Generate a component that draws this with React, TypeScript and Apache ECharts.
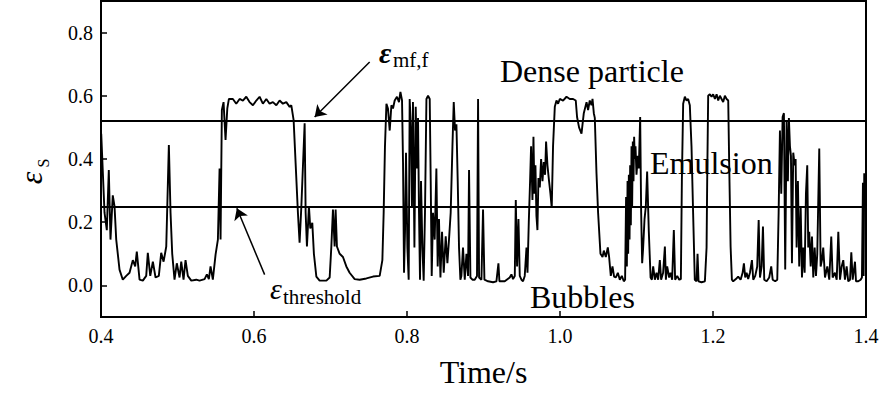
import React, { useEffect, useRef } from "react";
import * as echarts from "echarts";

// ---- data ----
const timeS: number[] = [
  0.4003, 0.4046, 0.4076, 0.4102, 0.4124, 0.4154, 0.4177, 0.4199, 0.4242, 0.4285,
  0.433, 0.4373, 0.4416, 0.4447, 0.4468, 0.4504, 0.4547, 0.4591, 0.4612, 0.4644,
  0.4678, 0.4713, 0.4756, 0.4787, 0.4818, 0.4853, 0.4887, 0.4909, 0.4931, 0.4961,
  0.4991, 0.5027, 0.5049, 0.5079, 0.5105, 0.5135, 0.518, 0.5245, 0.5288, 0.5354,
  0.5384, 0.541, 0.5432, 0.5462, 0.5498, 0.5528, 0.555, 0.5563, 0.558, 0.5602,
  0.5628, 0.5651, 0.5672, 0.5724, 0.5768, 0.5812, 0.5855, 0.5899, 0.5942, 0.5986,
  0.603, 0.6073, 0.6116, 0.6161, 0.6204, 0.6247, 0.6292, 0.6335, 0.6378, 0.6422,
  0.6466, 0.6488, 0.6518, 0.6544, 0.6574, 0.6596, 0.6619, 0.6662, 0.6675, 0.6692,
  0.6718, 0.6736, 0.6762, 0.6783, 0.6815, 0.6858, 0.6946, 0.6989, 0.7011, 0.7032,
  0.7054, 0.7067, 0.7084, 0.712, 0.7163, 0.7207, 0.725, 0.7316, 0.7381, 0.7469,
  0.7556, 0.7643, 0.7678, 0.7695, 0.7712, 0.7731, 0.7751, 0.7774, 0.7796, 0.7817,
  0.7839, 0.7869, 0.7895, 0.7914, 0.7935, 0.7948, 0.7961, 0.7974, 0.7987, 0.8005,
  0.8022, 0.8035, 0.8052, 0.8065, 0.8078, 0.8097, 0.8114, 0.8131, 0.8144, 0.8157,
  0.817, 0.8183, 0.8201, 0.8218, 0.8235, 0.8254, 0.8275, 0.8297, 0.831, 0.8323,
  0.834, 0.8362, 0.8384, 0.8401, 0.8418, 0.8437, 0.8458, 0.848, 0.8506, 0.8528,
  0.8549, 0.8571, 0.8594, 0.8611, 0.8628, 0.8646, 0.8663, 0.868, 0.8698, 0.8711,
  0.8732, 0.8755, 0.8777, 0.8798, 0.8811, 0.8829, 0.8855, 0.8885, 0.8915, 0.8929,
  0.8942, 0.8973, 0.8994, 0.9012, 0.9059, 0.9125, 0.9169, 0.9195, 0.9208, 0.9278,
  0.9343, 0.9365, 0.9386, 0.9409, 0.9422, 0.9439, 0.9457, 0.9474, 0.9496, 0.9517,
  0.9539, 0.9562, 0.9575, 0.9592, 0.9609, 0.9622, 0.964, 0.9653, 0.9666, 0.9679,
  0.9692, 0.9705, 0.9718, 0.9736, 0.9753, 0.9771, 0.9788, 0.9805, 0.9818, 0.9836,
  0.9857, 0.9875, 0.9892, 0.9909, 0.9932, 0.9954, 0.9975, 0.9997, 1.004, 1.0085,
  1.0128, 1.0171, 1.0206, 1.0223, 1.0249, 1.0281, 1.0311, 1.0347, 1.0367, 1.0389,
  1.0412, 1.0425, 1.0442, 1.0455, 1.0477, 1.0498, 1.0529, 1.0556, 1.0573, 1.0599,
  1.0625, 1.0642, 1.0664, 1.0686, 1.0707, 1.073, 1.0756, 1.0782, 1.0808, 1.0834,
  1.0851, 1.0864, 1.0874, 1.0883, 1.0891, 1.09, 1.0909, 1.0917, 1.0926, 1.0935,
  1.0943, 1.0952, 1.0961, 1.0969, 1.0978, 1.0987, 1.1, 1.1017, 1.103, 1.1048,
  1.1061, 1.1074, 1.1087, 1.1105, 1.1122, 1.1139, 1.1161, 1.1184, 1.1201, 1.1218,
  1.124, 1.1262, 1.1283, 1.1305, 1.1322, 1.1348, 1.1371, 1.1384, 1.1401, 1.1427,
  1.1445, 1.1466, 1.1488, 1.1505, 1.1532, 1.1558, 1.158, 1.1593, 1.161, 1.1632,
  1.1654, 1.1675, 1.1697, 1.1719, 1.174, 1.1762, 1.1785, 1.1798, 1.1811, 1.185,
  1.1894, 1.1916, 1.1924, 1.1937, 1.1959, 1.1981, 1.2002, 1.2025, 1.2047, 1.2068,
  1.209, 1.2112, 1.2133, 1.2155, 1.2178, 1.2199, 1.2212, 1.223, 1.2247, 1.2264,
  1.2299, 1.2329, 1.2361, 1.2387, 1.2404, 1.2421, 1.2439, 1.246, 1.2483, 1.2509,
  1.2526, 1.2552, 1.2578, 1.2597, 1.2614, 1.2636, 1.2653, 1.267, 1.2701, 1.2735,
  1.2761, 1.278, 1.2813, 1.284, 1.2858, 1.2875, 1.2892, 1.291, 1.2927, 1.2944,
  1.2962, 1.2979, 1.2992, 1.3006, 1.3019, 1.3032, 1.3049, 1.3067, 1.308, 1.3093,
  1.311, 1.3127, 1.3146, 1.3163, 1.318, 1.3198, 1.3215, 1.3232, 1.3245, 1.3258,
  1.3277, 1.3294, 1.3311, 1.3329, 1.3346, 1.3363, 1.3389, 1.3407, 1.3424, 1.3441,
  1.3464, 1.3494, 1.352, 1.3546, 1.3564, 1.3594, 1.3617, 1.3638, 1.366, 1.3682,
  1.3703, 1.3725, 1.3747, 1.3768, 1.3791, 1.3808, 1.3826, 1.3856, 1.3869, 1.3899,
  1.393, 1.3947, 1.396, 1.3969, 1.3977,
];

const epsS: number[] = [
  0.48, 0.23, 0.175, 0.365, 0.145, 0.285, 0.25, 0.145, 0.05, 0.018,
  0.03, 0.04, 0.08, 0.06, 0.107, 0.018, 0.015, 0.03, 0.103, 0.03,
  0.075, 0.025, 0.03, 0.103, 0.075, 0.123, 0.444, 0.23, 0.1, 0.018,
  0.07, 0.025, 0.075, 0.018, 0.08, 0.03, 0.015, 0.018, 0.015, 0.02,
  0.035, 0.02, 0.06, 0.018, 0.098, 0.145, 0.37, 0.145, 0.555, 0.58,
  0.46, 0.56, 0.59, 0.59, 0.575, 0.59, 0.585, 0.597, 0.58, 0.57,
  0.585, 0.597, 0.575, 0.59, 0.575, 0.58, 0.57, 0.585, 0.575, 0.58,
  0.565, 0.57, 0.523, 0.387, 0.23, 0.135, 0.25, 0.513, 0.23, 0.123,
  0.25, 0.18, 0.198, 0.1, 0.028, 0.015, 0.015, 0.025, 0.123, 0.24,
  0.123, 0.24, 0.123, 0.1, 0.09, 0.06, 0.04, 0.02, 0.018, 0.022,
  0.028, 0.03, 0.08, 0.23, 0.44, 0.575, 0.56, 0.49, 0.57, 0.56,
  0.585, 0.597, 0.58, 0.612, 0.585, 0.39, 0.04, 0.17, 0.42, 0.12,
  0.018, 0.59, 0.49, 0.25, 0.58, 0.12, 0.565, 0.37, 0.53, 0.23,
  0.018, 0.33, 0.12, 0.015, 0.23, 0.59, 0.6, 0.59, 0.33, 0.03,
  0.23, 0.145, 0.37, 0.06, 0.21, 0.025, 0.17, 0.04, 0.155, 0.07,
  0.145, 0.23, 0.44, 0.58, 0.49, 0.51, 0.33, 0.12, 0.018, 0.03,
  0.12, 0.018, 0.1, 0.03, 0.365, 0.025, 0.018, 0.018, 0.03, 0.59,
  0.025, 0.018, 0.24, 0.018, 0.013, 0.01, 0.013, 0.07, 0.013, 0.013,
  0.025, 0.035, 0.02, 0.03, 0.27, 0.06, 0.21, 0.03, 0.018, 0.013,
  0.03, 0.12, 0.04, 0.2, 0.33, 0.44, 0.27, 0.47, 0.29, 0.38,
  0.22, 0.175, 0.34, 0.31, 0.4, 0.33, 0.39, 0.35, 0.455, 0.38,
  0.33, 0.29, 0.245, 0.44, 0.565, 0.585, 0.575, 0.59, 0.585, 0.597,
  0.59, 0.59, 0.585, 0.533, 0.5, 0.48, 0.545, 0.58, 0.555, 0.585,
  0.57, 0.59, 0.545, 0.53, 0.355, 0.23, 0.1, 0.09, 0.11, 0.09,
  0.12, 0.09, 0.03, 0.06, 0.028, 0.025, 0.04, 0.018, 0.03, 0.013,
  0.018, 0.28, 0.06, 0.33, 0.1, 0.35, 0.145, 0.38, 0.19, 0.44,
  0.25, 0.455, 0.33, 0.47, 0.4, 0.44, 0.35, 0.41, 0.37, 0.533,
  0.23, 0.07, 0.12, 0.21, 0.25, 0.36, 0.17, 0.025, 0.018, 0.06,
  0.018, 0.04, 0.018, 0.08, 0.018, 0.04, 0.123, 0.018, 0.06, 0.025,
  0.04, 0.018, 0.175, 0.018, 0.03, 0.018, 0.02, 0.33, 0.575, 0.597,
  0.585, 0.59, 0.57, 0.44, 0.23, 0.018, 0.013, 0.1, 0.013, 0.01,
  0.013, 0.12, 0.33, 0.6, 0.605, 0.597, 0.605, 0.59, 0.605, 0.585,
  0.6, 0.59, 0.58, 0.6, 0.59, 0.585, 0.38, 0.123, 0.018, 0.013,
  0.02, 0.028, 0.018, 0.04, 0.07, 0.025, 0.04, 0.02, 0.04, 0.08,
  0.018, 0.03, 0.06, 0.207, 0.025, 0.06, 0.186, 0.018, 0.013, 0.025,
  0.06, 0.018, 0.013, 0.018, 0.23, 0.49, 0.29, 0.533, 0.545, 0.05,
  0.522, 0.33, 0.53, 0.44, 0.41, 0.07, 0.42, 0.38, 0.4, 0.12,
  0.33, 0.06, 0.25, 0.025, 0.12, 0.04, 0.29, 0.38, 0.12, 0.17,
  0.06, 0.155, 0.025, 0.12, 0.03, 0.1, 0.433, 0.06, 0.08, 0.12,
  0.025, 0.06, 0.018, 0.155, 0.025, 0.04, 0.018, 0.17, 0.018, 0.06,
  0.08, 0.018, 0.06, 0.013, 0.018, 0.105, 0.018, 0.075, 0.013, 0.013,
  0.018, 0.025, 0.325, 0.03, 0.355,
];

const xTickValues = [0.4, 0.6, 0.8, 1.0, 1.2, 1.4];
const yTickValues = [0.0, 0.2, 0.4, 0.6, 0.8];
const xRange = [0.4, 1.4];
const yRange = [-0.1, 0.9];

const epsMfF = 0.52; // ε_mf,f line
const epsThreshold = 0.25; // ε_threshold line

// annotation arrows, [tail, head] in data coordinates
const arrowMfF = [
  [0.7512, 0.707],
  [0.6793, 0.533],
];
const arrowThreshold = [
  [0.6139, 0.034],
  [0.5776, 0.244],
];

const regionLabels = ["Dense particle", "Emulsion", "Bubbles"];
const xAxisTitle = "Time/s";

const SERIF = "Liberation Serif, serif";

export default function App() {
  const ref = useRef<HTMLDivElement>(null);

  useEffect(() => {
    if (!ref.current) return;
    const chart = echarts.init(ref.current, undefined, { renderer: "svg" });

    const seriesData = timeS.map((t, i) => [t, epsS[i]]);

    const txt = (x: number, y: number, text: string, size: number, extra: any = {}) => ({
      type: "text",
      x,
      y,
      silent: true,
      ...(extra.rotation !== undefined ? { rotation: extra.rotation } : {}),
      style: {
        text,
        fontFamily: SERIF,
        fontSize: size,
        fontStyle: extra.fontStyle || "normal",
        fontWeight: extra.fontWeight || "normal",
        fill: "#000",
        align: extra.align || "left",
        verticalAlign: "middle",
      },
    });

    const option: any = {
      animation: false,
      backgroundColor: "#fff",
      textStyle: { fontFamily: SERIF },
      grid: {
        left: 101,
        right: 20,
        top: 1,
        bottom: 77,
        show: true,
        borderColor: "#000",
        borderWidth: 2,
        backgroundColor: "transparent",
      },
      xAxis: {
        type: "value",
        min: xRange[0],
        max: xRange[1],
        axisLine: { show: true, onZero: false, lineStyle: { color: "#000", width: 2 } },
        axisTick: {
          show: true,
          inside: true,
          length: 6,
          customValues: xTickValues,
          lineStyle: { color: "#000", width: 1.5 },
        },
        axisLabel: {
          color: "#000",
          fontFamily: SERIF,
          fontSize: 20,
          margin: 9,
          customValues: xTickValues,
          formatter: (v: number) => v.toFixed(1),
        },
        splitLine: { show: false },
        name: xAxisTitle,
        nameLocation: "middle",
        nameGap: 39,
        nameTextStyle: { color: "#000", fontFamily: SERIF, fontSize: 32 },
      },
      yAxis: {
        type: "value",
        min: yRange[0],
        max: yRange[1],
        axisLine: { show: true, onZero: false, lineStyle: { color: "#000", width: 2 } },
        axisTick: {
          show: true,
          inside: true,
          length: 6,
          customValues: yTickValues,
          lineStyle: { color: "#000", width: 1.5 },
        },
        axisLabel: {
          color: "#000",
          fontFamily: SERIF,
          fontSize: 20,
          margin: 8,
          customValues: yTickValues,
          formatter: (v: number) => v.toFixed(1),
        },
        splitLine: { show: false },
      },
      series: [
        {
          type: "line",
          data: seriesData,
          showSymbol: false,
          symbol: "none",
          silent: true,
          lineStyle: { color: "#000", width: 1.9 },
          emphasis: { disabled: true },
          markLine: {
            silent: true,
            symbol: ["none", "none"],
            label: { show: false },
            lineStyle: { color: "#000", width: 1.8, type: "solid" },
            emphasis: { disabled: true },
            data: [{ yAxis: epsMfF }, { yAxis: epsThreshold }],
          },
        },
        {
          type: "line",
          data: [],
          silent: true,
          markLine: {
            silent: true,
            symbol: ["none", "arrow"],
            symbolSize: 11,
            label: { show: false },
            lineStyle: { color: "#000", width: 1.5, type: "solid" },
            itemStyle: { color: "#000" },
            emphasis: { disabled: true },
            data: [
              [{ coord: arrowMfF[0] }, { coord: arrowMfF[1] }],
              [{ coord: arrowThreshold[0] }, { coord: arrowThreshold[1] }],
            ],
          },
        },
      ],
      graphic: [
        txt(500, 71, regionLabels[0], 32),
        txt(650, 163, regionLabels[1], 32),
        txt(530, 297, regionLabels[2], 32),
        // ε_mf,f
        txt(379, 52, "ε", 30, { fontStyle: "italic", fontWeight: "bold" }),
        txt(393, 60, "mf,f", 21),
        // ε_threshold
        txt(270, 288, "ε", 30, { fontStyle: "italic" }),
        txt(283, 297, "threshold", 21),
        // y-axis title ε_S (rotated)
        txt(31, 178, "ε", 32, { fontStyle: "italic", rotation: Math.PI / 2, align: "center" }),
        txt(43, 163, "S", 16, { rotation: Math.PI / 2, align: "center" }),
      ],
    };

    chart.setOption(option);
    return () => {
      chart.dispose();
    };
  }, []);

  return (
    <div
      ref={ref}
      style={{ position: "fixed", left: 0, top: 0, width: 886, height: 394, background: "#fff" }}
    />
  );
}
